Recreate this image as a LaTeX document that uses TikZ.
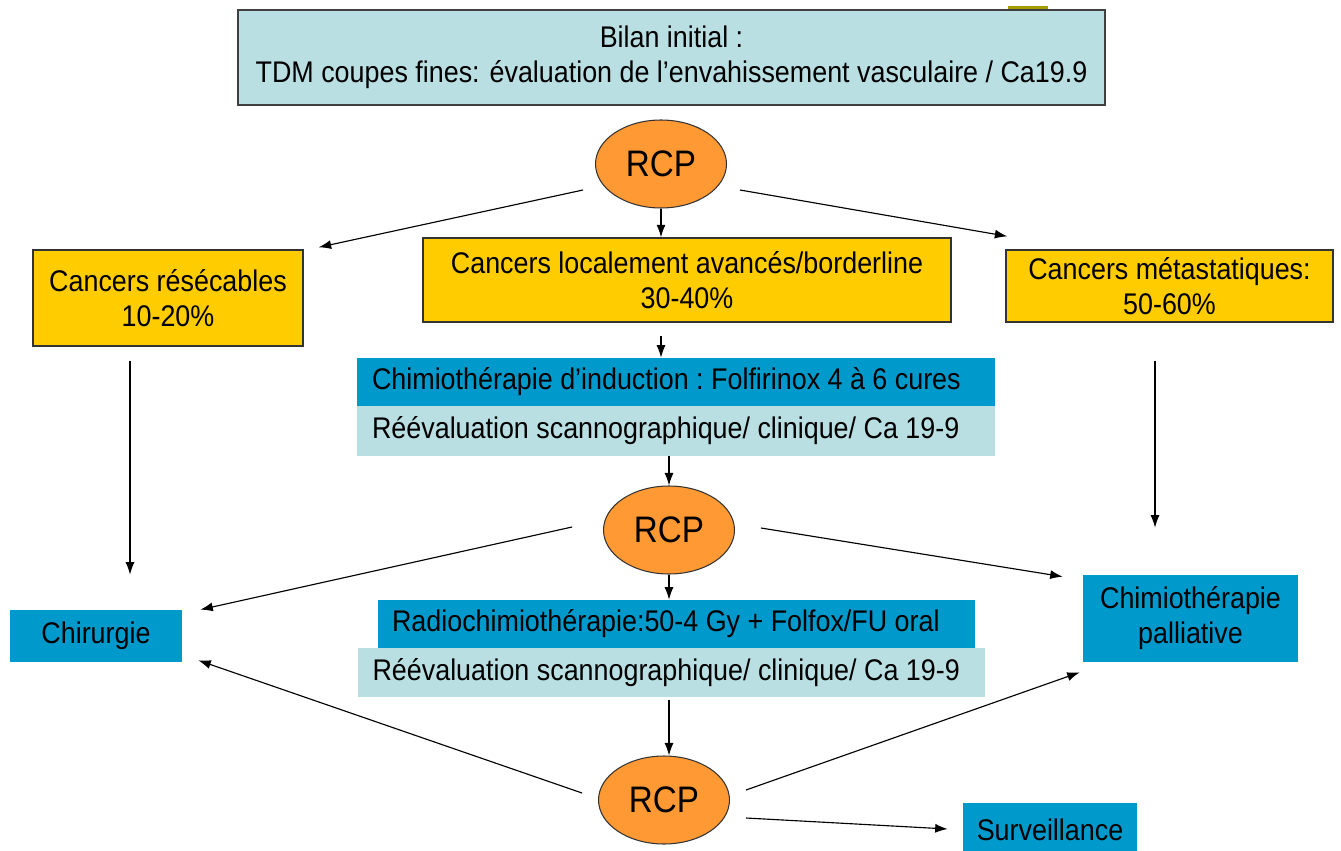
\documentclass[tikz,border=0pt]{standalone}
\usepackage{fontspec}
\setmainfont{Liberation Sans}[FakeStretch=0.9]
\usetikzlibrary{arrows.meta,calc,shapes.geometric}

\definecolor{bilancyan}{HTML}{B9DFE3}
\definecolor{boxblue}{HTML}{0099CC}
\definecolor{boxyellow}{HTML}{FFCC00}
\definecolor{rcporange}{HTML}{FF9933}

\newcommand\tightline[1]{\mbox{\frenchspacing\spaceskip=0.25em\relax #1}}

\tikzset{
  arr/.style={-{Latex[length=2.5mm,width=1.8mm]}, line width=0.65pt},
  yellowbox/.style={draw=black!80, line width=0.8pt, fill=boxyellow, inner sep=0pt, align=center},
  bluebox/.style={fill=boxblue, inner sep=0pt, align=center},
  lightbox/.style={fill=bilancyan, inner sep=0pt},
  stepline/.style={align=left, inner ysep=0pt, inner xsep=0.3cm},
  rcp/.style={ellipse, draw=black!80, line width=0.6pt, fill=rcporange, inner sep=0pt,
    minimum width=2.62cm, minimum height=1.76cm, font=\fontsize{21}{25}\selectfont}
}

\begin{document}
\begin{tikzpicture}[x=0.02cm, y=-0.02cm, font=\fontsize{17}{20}\selectfont]
\useasboundingbox (0,0) rectangle (1341,851);

% bilan initial
\fill[olive!80!yellow] (1008,6) rectangle (1048,9);
\node[lightbox, draw=black!75, line width=0.8pt, align=center, minimum width=17.34cm, minimum height=1.90cm]
  (bilan) at (671.5,57.5) {Bilan initial :\\TDM coupes fines: évaluation de l’envahissement vasculaire / Ca19.9};

\node[rcp] (rcp1) at (661,164) {RCP};

% classes
\node[yellowbox, minimum width=5.40cm, minimum height=1.92cm] (resec) at (168,298) {Cancers résécables\\10-20\%};
\node[yellowbox, minimum width=10.56cm, minimum height=1.68cm] (local) at (687,280) {Cancers localement avancés/borderline\\30-40\%};
\node[yellowbox, minimum width=6.54cm, minimum height=1.44cm] (meta) at (1169.5,286) {Cancers métastatiques:\\50-60\%};

% induction
\node[bluebox, stepline, text width=12.16cm, minimum height=0.96cm] (induc) at (676,382)
  {\tightline{Chimiothérapie d’induction : Folfirinox 4 à 6 cures}};
\node[lightbox, stepline, text width=12.16cm, minimum height=1.0cm] (reeval1) at (676,431)
  {\tightline{Réévaluation scannographique/ clinique/ Ca 19-9}};

\node[rcp] (rcp2) at (669,530) {RCP};

% radiochimio
\node[bluebox, stepline, inner xsep=0.28cm, text width=11.38cm, minimum height=0.96cm] (radio) at (676.5,624)
  {\tightline{Radiochimiothérapie:50-4 Gy + Folfox/FU oral}};
\node[lightbox, stepline, text width=11.96cm, minimum height=0.98cm] (reeval2) at (671.5,672.5)
  {\tightline{Réévaluation scannographique/ clinique/ Ca 19-9}};

\node[rcp] (rcp3) at (664,800) {RCP};

% issues
\node[bluebox, minimum width=3.44cm, minimum height=1.04cm] (chir) at (96,636) {Chirurgie};
\node[bluebox, minimum width=4.30cm, minimum height=1.74cm] (pall) at (1190.5,618.5) {Chimiothérapie\\palliative};
\node[bluebox, minimum width=3.48cm, minimum height=1.10cm] (surv) at (1050,830) {Surveillance};

% connectors
\draw[arr] ($(rcp1)+(-78,26)$) -- ($(resec.north east)+(15,-2)$);
\draw[arr] (rcp1.south) -- (rcp1.south |- local.north);
\draw[arr] ($(rcp1)+(79,26)$) -- ($(meta.north west)+(2,-13)$);
\draw[arr] ($(local.south -| rcp1)+(0,13)$) -- (induc.north -| rcp1);
\draw[arr] (reeval1.south -| rcp2) -- (rcp2.north);

\draw[arr] ($(rcp2)+(-97,-3)$) -- ($(chir.north east)+(18,0)$);
\draw[arr] (rcp2.south) -- (rcp2.south |- radio.north);
\draw[arr] ($(rcp2)+(92,-2)$) -- ($(pall.north west)+(-20,2)$);
\draw[arr] ($(resec.south)+(-38,14)$) -- ($(chir.north)+(34,-35)$);
\draw[arr] ($(meta.south)+(-14.5,38)$) -- ($(pall.north)+(-35.5,-47)$);

\draw[arr] ($(reeval2.south -| rcp2)+(0,3)$) -- (rcp2 |- rcp3.north);
\draw[arr] ($(rcp3)+(-82,-7)$) -- ($(chir.south east)+(16,-2)$);
\draw[arr] ($(rcp3)+(82,-10)$) -- ($(pall.south west)+(-3,10)$);
\draw[arr] ($(rcp3)+(82,18)$) -- ($(surv.west)+(-15,-1)$);
\end{tikzpicture}
\end{document}
